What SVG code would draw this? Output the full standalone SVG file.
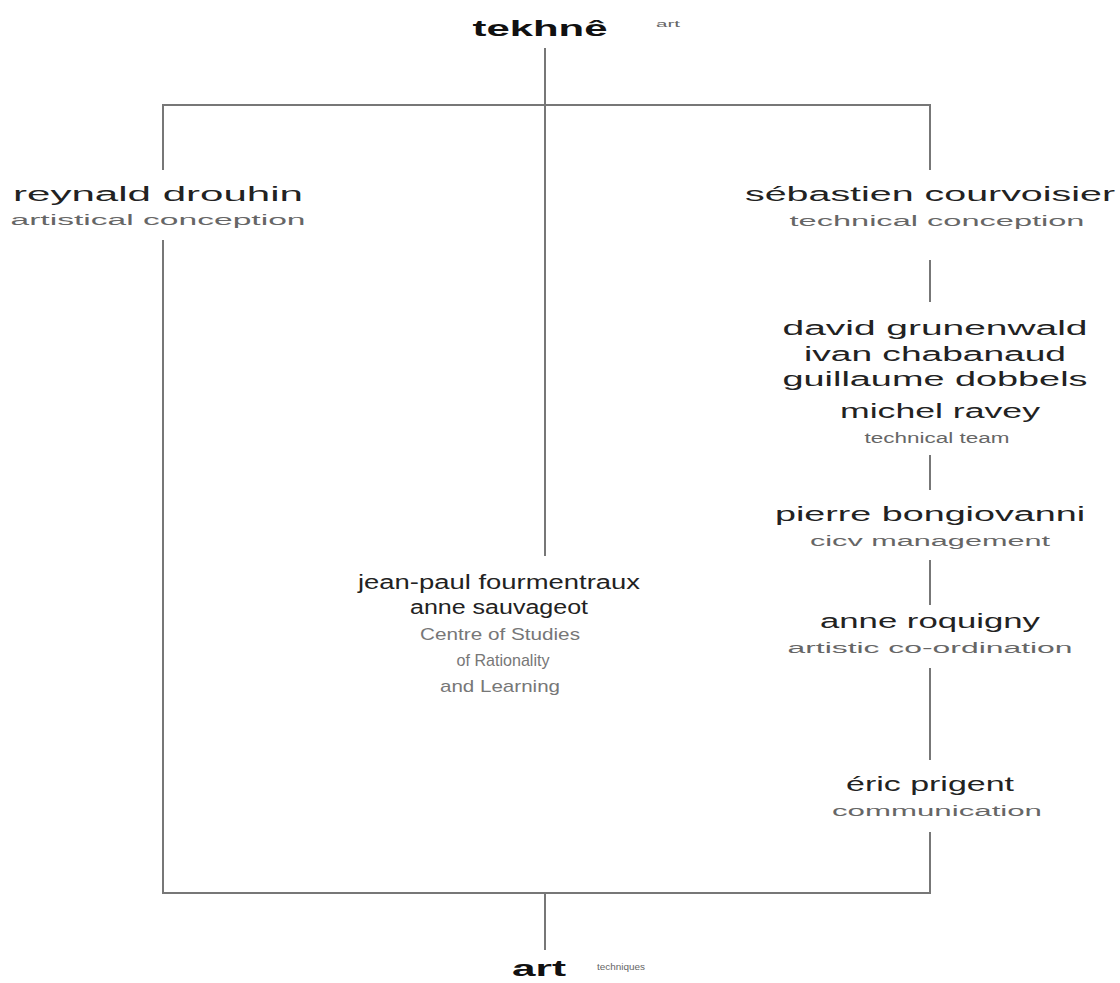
<svg xmlns="http://www.w3.org/2000/svg" width="1120" height="983" viewBox="0 0 1120 983">
<style>
text{font-family:"Liberation Sans",Arial,sans-serif;text-anchor:middle;fill:#222}
.n{font-size:20px}
.b{font-size:22px;font-weight:bold;fill:#111}
.r{font-size:14px;fill:#666}
.g{font-size:17px;fill:#777}
.s{font-size:9px;fill:#666;text-anchor:start}
#connectors line{stroke:#777;stroke-width:2}
</style>
<rect width="1120" height="983" fill="#fff"/>
<g id="connectors">
<line x1="545" y1="48" x2="545" y2="556"/>
<line x1="163" y1="105" x2="930" y2="105"/>
<line x1="163" y1="104" x2="163" y2="170"/>
<line x1="163" y1="240" x2="163" y2="894"/>
<line x1="930" y1="104" x2="930" y2="170"/>
<line x1="930" y1="260" x2="930" y2="302"/>
<line x1="930" y1="455" x2="930" y2="490"/>
<line x1="930" y1="560" x2="930" y2="605"/>
<line x1="930" y1="668" x2="930" y2="760"/>
<line x1="930" y1="832" x2="930" y2="894"/>
<line x1="163" y1="893" x2="930" y2="893"/>
<line x1="545" y1="893" x2="545" y2="950"/>
</g>
<g id="tekhne"><text class="b" x="540" y="36" textLength="135" lengthAdjust="spacingAndGlyphs">tekhnê</text><text class="s" x="656" y="27" textLength="24" lengthAdjust="spacingAndGlyphs">art</text></g>
<g id="drouhin"><text class="n" x="158" y="201" textLength="290" lengthAdjust="spacingAndGlyphs">reynald drouhin</text><text class="r" x="158" y="225" textLength="295" lengthAdjust="spacingAndGlyphs">artistical conception</text></g>
<g id="courvoisier"><text class="n" x="930" y="201" textLength="370" lengthAdjust="spacingAndGlyphs">sébastien courvoisier</text><text class="r" x="937" y="226" textLength="295" lengthAdjust="spacingAndGlyphs">technical conception</text></g>
<g id="team"><text class="n" x="935" y="335" textLength="305" lengthAdjust="spacingAndGlyphs">david grunenwald</text><text class="n" x="935" y="361" textLength="262" lengthAdjust="spacingAndGlyphs">ivan chabanaud</text><text class="n" x="935" y="386" textLength="305" lengthAdjust="spacingAndGlyphs">guillaume dobbels</text><text class="n" x="940" y="418" textLength="200" lengthAdjust="spacingAndGlyphs">michel ravey</text><text class="r" x="937" y="443" textLength="145" lengthAdjust="spacingAndGlyphs">technical team</text></g>
<g id="bongiovanni"><text class="n" x="930" y="521" textLength="310" lengthAdjust="spacingAndGlyphs">pierre bongiovanni</text><text class="r" x="930" y="546" textLength="240" lengthAdjust="spacingAndGlyphs">cicv management</text></g>
<g id="fourmentraux"><text class="n" x="499" y="589" textLength="282" lengthAdjust="spacingAndGlyphs">jean-paul fourmentraux</text><text class="n" x="499" y="614" textLength="178" lengthAdjust="spacingAndGlyphs">anne sauvageot</text><text class="g" x="500" y="640" textLength="160" lengthAdjust="spacingAndGlyphs">Centre of Studies</text><text class="g" x="503" y="666" textLength="93" lengthAdjust="spacingAndGlyphs">of Rationality</text><text class="g" x="500" y="692" textLength="120" lengthAdjust="spacingAndGlyphs">and Learning</text></g>
<g id="roquigny"><text class="n" x="930" y="628" textLength="220" lengthAdjust="spacingAndGlyphs">anne roquigny</text><text class="r" x="930" y="653" textLength="285" lengthAdjust="spacingAndGlyphs">artistic co-ordination</text></g>
<g id="prigent"><text class="n" x="930" y="791" textLength="168" lengthAdjust="spacingAndGlyphs">éric prigent</text><text class="r" x="937" y="816" textLength="210" lengthAdjust="spacingAndGlyphs">communication</text></g>
<g id="art"><text class="b" x="539" y="976" textLength="54" lengthAdjust="spacingAndGlyphs">art</text><text class="s" x="597" y="970" textLength="48" lengthAdjust="spacingAndGlyphs">techniques</text></g>
</svg>
